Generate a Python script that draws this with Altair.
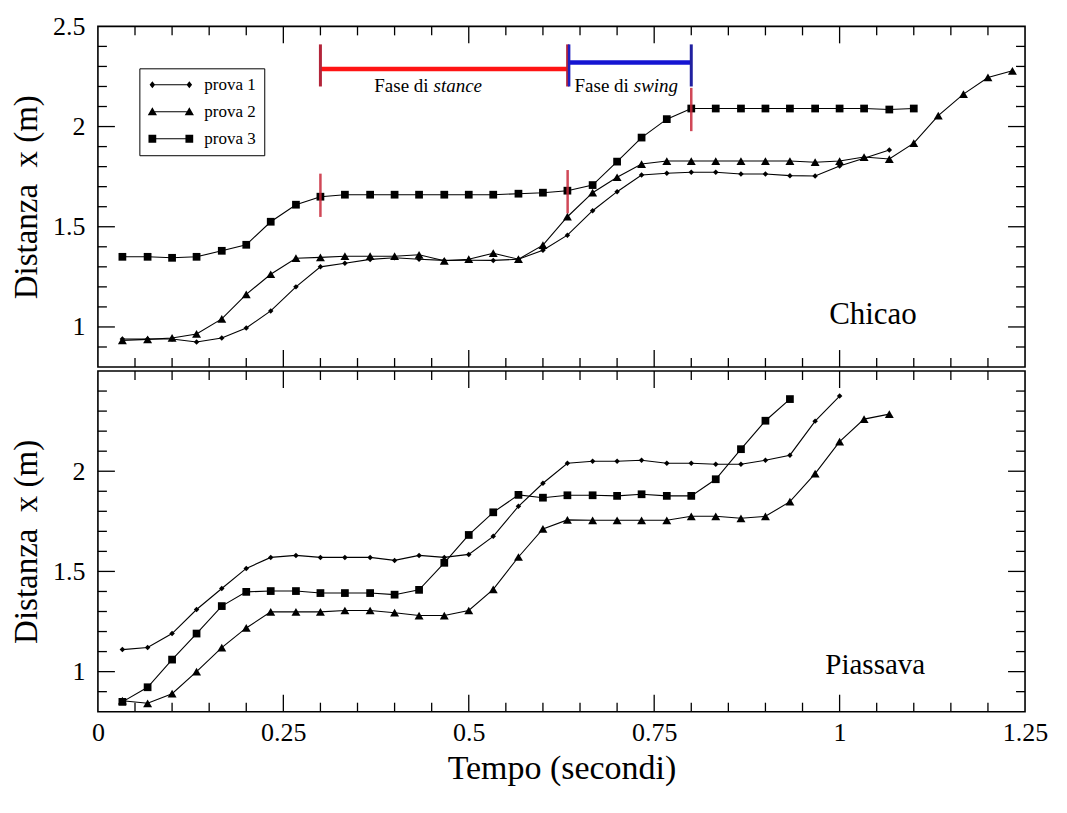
import altair as alt
import pandas as pd

# ---------------- data ----------------
tempo = [0.033, 0.067, 0.1, 0.133, 0.167, 0.2, 0.233, 0.267, 0.3, 0.333,
         0.367, 0.4, 0.433, 0.467, 0.5, 0.533, 0.567, 0.6, 0.633, 0.667,
         0.7, 0.733, 0.767, 0.8, 0.833, 0.867, 0.9, 0.933, 0.967, 1.0,
         1.033, 1.067, 1.1, 1.133, 1.167, 1.2, 1.233]

serie = ["prova 1", "prova 2", "prova 3"]

chicao_prova1 = [0.94, 0.94, 0.94, 0.925, 0.945, 0.995, 1.08, 1.20, 1.30, 1.318,
                 1.337, 1.345, 1.338, 1.332, 1.333, 1.332, 1.338, 1.383, 1.458, 1.58,
                 1.675, 1.758, 1.767, 1.772, 1.772, 1.763, 1.763, 1.755, 1.753, 1.803,
                 1.842, 1.883]
chicao_prova2 = [0.933, 0.938, 0.945, 0.965, 1.04, 1.163, 1.263, 1.343, 1.347, 1.353,
                 1.353, 1.353, 1.36, 1.33, 1.338, 1.368, 1.338, 1.408, 1.55, 1.67,
                 1.747, 1.813, 1.828, 1.828, 1.828, 1.828, 1.828, 1.828, 1.822, 1.828,
                 1.848, 1.838, 1.917, 2.055, 2.162, 2.245, 2.278]
chicao_prova3 = [1.35, 1.35, 1.345, 1.35, 1.38, 1.41, 1.525, 1.61, 1.65, 1.66,
                 1.66, 1.66, 1.66, 1.66, 1.66, 1.66, 1.665, 1.67, 1.68, 1.708,
                 1.825, 1.945, 2.037, 2.09, 2.09, 2.09, 2.09, 2.09, 2.09, 2.09,
                 2.09, 2.085, 2.09]

piassava_prova1 = [1.11, 1.12, 1.19, 1.31, 1.415, 1.515, 1.57, 1.58, 1.57, 1.57,
                   1.57, 1.555, 1.58, 1.57, 1.585, 1.675, 1.825, 1.94, 2.04, 2.05,
                   2.05, 2.055, 2.04, 2.04, 2.035, 2.035, 2.055, 2.08, 2.25, 2.375]
piassava_prova2 = [0.855, 0.842, 0.89, 1.0, 1.12, 1.218, 1.298, 1.298, 1.298, 1.305,
                   1.305, 1.294, 1.28, 1.28, 1.305, 1.41, 1.572, 1.712, 1.757, 1.755,
                   1.755, 1.755, 1.755, 1.775, 1.775, 1.765, 1.775, 1.848, 1.988, 2.148,
                   2.26, 2.285]
piassava_prova3 = [0.849, 0.922, 1.06, 1.19, 1.327, 1.398, 1.402, 1.402, 1.392, 1.392,
                   1.392, 1.384, 1.408, 1.543, 1.682, 1.795, 1.882, 1.868, 1.88, 1.88,
                   1.877, 1.885, 1.877, 1.877, 1.96, 2.11, 2.252, 2.36]

# phase annotations (Chicao panel)
fase_t = [0.3, 0.6333, 0.8]
fase_centro = [1.657, 1.675, 2.085]       # prova 3 positions marked
barra_stance = [0.3, 0.6333, 2.287]       # t start, t end, y
barra_swing = [0.6333, 0.8, 2.32]
barra_tick = [2.2, 2.41]
testo_fasi = [("Fase di", "stance", 0.4485), ("Fase di", "swing", 0.7185)]
testo_fasi_y = 2.2
nomi_pannelli = [("Chicao", 1.045, 1.06, 31), ("Piassava", 1.048, 1.035, 29)]

x_major = [0.25, 0.5, 0.75, 1.0]
x_minor = [0.05, 0.1, 0.15, 0.2, 0.3, 0.35, 0.4, 0.45, 0.55, 0.6, 0.65, 0.7,
           0.8, 0.85, 0.9, 0.95, 1.05, 1.1, 1.15, 1.2]
x_labels = [0, 0.25, 0.5, 0.75, 1, 1.25]
y_major = [1.0, 1.5, 2.0]
y_minor = [0.9, 1.1, 1.2, 1.3, 1.4, 1.6, 1.7, 1.8, 1.9, 2.1, 2.2, 2.3, 2.4]

# ---------------- style ----------------
W, H = 928, 341
FONT = "Liberation Serif"
MAJ, MIN = 17, 9
x_scale = alt.Scale(domain=[0, 1.25], nice=False, zero=False)
y_scale = alt.Scale(domain=[0.8, 2.5], nice=False, zero=False)


def long_df(values_list):
    rows = []
    for name, vals in zip(serie, values_list):
        for t, v in zip(tempo, vals):
            rows.append({"t": t, "v": v, "serie": name})
    return pd.DataFrame(rows)


def legend_paths():
    # legend glyph: thin filled bar (the line) with a marker at each end
    def diamond(c):
        return f"M{c-0.15},0L{c},-0.19L{c+0.15},0L{c},0.19Z"

    def tri(c):
        return f"M{c-0.25},0.19L{c},-0.24L{c+0.25},0.19Z"

    def sq(c):
        return f"M{c-0.21},-0.21H{c+0.21}V0.21H{c-0.21}Z"

    line = "M-1,-0.03H1V0.03H-1Z"
    return [line + diamond(-1) + diamond(1),
            line + tri(-1) + tri(1),
            line + sq(-1) + sq(1)]


def panel(values_list, y_values, show_x, nome, legend_y, annot):
    df = long_df(values_list)
    y_axis = alt.Axis(values=y_values, labelExpr="'' + datum.value", labelFont=FONT,
                      labelFontSize=26, labelColor="black", labelPadding=13, ticks=False,
                      tickSize=0, domain=False, grid=False, labelFlush=False,
                      labelOverlap=False, title="Distanza\u00a0 x (m)", titleFont=FONT,
                      titleFontSize=33, titleFontWeight="normal", titleColor="black",
                      titlePadding=9)
    if show_x:
        x_axis = alt.Axis(values=x_labels, labelExpr="'' + datum.value", labelFont=FONT,
                          labelFontSize=26, labelColor="black", labelPadding=8, ticks=False,
                          tickSize=0, domain=False, grid=False, labelFlush=False,
                          labelOverlap=False, title="Tempo (secondi)", titleFont=FONT,
                          titleFontSize=34, titleFontWeight="normal", titleColor="black",
                          titlePadding=6)
    else:
        x_axis = None

    X = lambda f: alt.X(f, type="quantitative", scale=x_scale, axis=x_axis)
    Y = lambda f: alt.Y(f, type="quantitative", scale=y_scale, axis=y_axis)

    layers = []
    # inward ticks
    xt_maj = pd.DataFrame({"v": x_major})
    xt_min = pd.DataFrame({"v": x_minor})
    yt_maj = pd.DataFrame({"v": y_major})
    yt_min = pd.DataFrame({"v": y_minor})
    for dfx, L in ((xt_maj, MAJ), (xt_min, MIN)):
        base = alt.Chart(dfx).mark_rule(color="black", strokeWidth=1.3)
        layers.append(base.encode(x=X("v"), y=alt.value(H), y2=alt.value(H - L)))
        layers.append(base.encode(x=X("v"), y=alt.value(0), y2=alt.value(L)))
    for dfy, L in ((yt_maj, MAJ), (yt_min, MIN)):
        base = alt.Chart(dfy).mark_rule(color="black", strokeWidth=1.3)
        layers.append(base.encode(y=Y("v"), x=alt.value(0), x2=alt.value(L)))
        layers.append(base.encode(y=Y("v"), x=alt.value(W), x2=alt.value(W - L)))

    # data lines
    layers.append(alt.Chart(df).mark_line(color="black", strokeWidth=1.1).encode(
        x=X("t"), y=Y("v"), detail="serie:N"))
    shapes = [("prova 1", "diamond", 30), ("prova 2", "triangle-up", 80), ("prova 3", "square", 60)]
    for name, shp, sz in shapes:
        layers.append(alt.Chart(df).transform_filter(alt.datum.serie == name).mark_point(
            shape=shp, size=sz, filled=True, color="black", opacity=1).encode(
            x=X("t"), y=Y("v")))

    if annot:
        br = pd.DataFrame({"t1": [barra_stance[0], barra_swing[0]],
                           "t2": [barra_stance[1], barra_swing[1]],
                           "y": [barra_stance[2], barra_swing[2]],
                           "c": ["#ff1414", "#1414d2"]})
        layers.append(alt.Chart(br).mark_rule(strokeWidth=4.5).encode(
            x=X("t1"), x2="t2", y=Y("y"), color=alt.Color("c:N", scale=None)))
        tk = pd.DataFrame({"t": fase_t, "y1": [barra_tick[0]] * 3, "y2": [barra_tick[1]] * 3,
                           "c": ["#b3253a", "#b3253a", "#2020a0"]})
        layers.append(alt.Chart(tk).mark_rule(strokeWidth=3).encode(
            x=X("t"), y=Y("y1"), y2="y2", color=alt.Color("c:N", scale=None)))
        tkb = pd.DataFrame({"t": [fase_t[1]], "y1": [barra_tick[0]], "y2": [barra_tick[1]]})
        layers.append(alt.Chart(tkb).mark_rule(strokeWidth=2.5, color="#2020c0", xOffset=1.5).encode(
            x=X("t"), y=Y("y1"), y2="y2"))
        mk = pd.DataFrame({"t": fase_t,
                           "y1": [c - 0.108 for c in fase_centro],
                           "y2": [c + 0.108 for c in fase_centro]})
        layers.append(alt.Chart(mk).mark_rule(strokeWidth=2.5, color="#c8283a", opacity=0.85).encode(
            x=X("t"), y=Y("y1"), y2="y2"))
        tx = pd.DataFrame({"a": [r[0] for r in testo_fasi], "b": [r[1] for r in testo_fasi],
                           "t": [r[2] for r in testo_fasi], "y": [testo_fasi_y] * 2})
        layers.append(alt.Chart(tx).mark_text(font=FONT, fontSize=19, align="right",
                                              baseline="middle", dx=-2, color="black").encode(
            x=X("t"), y=Y("y"), text="a:N"))
        layers.append(alt.Chart(tx).mark_text(font=FONT, fontSize=19, fontStyle="italic",
                                              align="left", baseline="middle", dx=3,
                                              color="black").encode(
            x=X("t"), y=Y("y"), text="b:N"))

    nm = pd.DataFrame({"n": [nome[0]], "t": [nome[1]], "y": [nome[2]]})
    layers.append(alt.Chart(nm).mark_text(font=FONT, fontSize=nome[3], align="center",
                                          baseline="middle", color="black").encode(
        x=X("t"), y=Y("y"), text="n:N"))

    # legend (drawn by Vega's legend, no marks)
    lg = pd.DataFrame({"serie": serie})
    layers.append(alt.Chart(lg).transform_filter("false").mark_point(
        filled=True, color="black").encode(
        x=alt.value(0),
        y=alt.value(0),
        shape=alt.Shape("serie:N", scale=alt.Scale(domain=serie, range=legend_paths()),
                        legend=alt.Legend(title=None, orient="none", legendX=41.5,
                                          legendY=legend_y, direction="vertical",
                                          fillColor="white", strokeColor="black",
                                          padding=8, labelFont=FONT, labelFontSize=17,
                                          labelColor="black", symbolSize=1369,
                                          symbolFillColor="black", symbolOpacity=1,
                                          symbolOffset=4, labelOffset=14, rowPadding=9,
                                          clipHeight=17))))

    return alt.layer(*layers).properties(width=W, height=H)


top = panel([chicao_prova1, chicao_prova2, chicao_prova3], [1, 1.5, 2, 2.5], False,
            nomi_pannelli[0], 42, True)
bottom = panel([piassava_prova1, piassava_prova2, piassava_prova3], [1, 1.5, 2], True,
               nomi_pannelli[1], 43, False)

chart = alt.vconcat(top, bottom, spacing=0).properties(
    padding={"left": 1, "top": 4, "right": 10, "bottom": 5},
    background="white",
).configure_view(stroke="black", strokeWidth=1.6).configure_legend(
    symbolOpacity=1, symbolFillColor="black")

chart.save("out.html", embed_options={"renderer": "svg", "actions": False})
